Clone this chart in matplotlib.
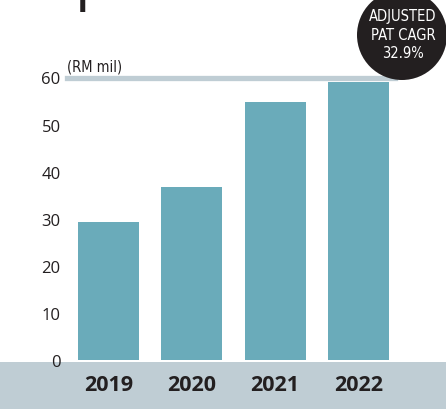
import matplotlib.pyplot as plt
from matplotlib.patches import Ellipse, Rectangle

# Adjusted PAT, RM mil
years = ["2019", "2020", "2021", "2022"]
pat = [29.3, 36.7, 54.7, 59.0]
y_ticks = [0, 10, 20, 30, 40, 50, 60]
unit_label = "(RM mil)"
badge_text = "ADJUSTED\nPAT CAGR\n32.9%"

W, H = 446, 410
bar_color = "#6AABBA"
band_color = "#BFCDD4"
ink = "#231F20"
narrow = dict(family="DejaVu Sans", fontstretch="condensed")

fig = plt.figure(figsize=(W / 100, H / 100), dpi=100)

# bottom band behind the year labels
fig.patches.append(Rectangle((0, 0), 1, 47 / H, transform=fig.transFigure,
                             facecolor=band_color, edgecolor="none", zorder=-1))

ax = fig.add_axes([67 / W, 49 / H, (W - 67) / W, 282.5 / H])
ax.set_facecolor("none")
xs = list(range(len(years)))
ax.bar(xs, pat, width=0.73, color=bar_color, zorder=2)
ax.set_ylim(0, 60)
ax.set_xlim(-0.498, 4.05)

ax.axhline(60, xmin=0, xmax=(395 - 67) / (W - 67), color=band_color,
           linewidth=3.8, zorder=1, clip_on=False)

for s in ax.spines.values():
    s.set_visible(False)
ax.set_yticks(y_ticks)
ax.set_yticklabels([str(t) for t in y_ticks], fontsize=12, color=ink,
                   family=["Open Sans", "DejaVu Sans"])
ax.tick_params(axis="y", length=0, pad=4.5)
ax.set_xticks([])

for x, label in zip(xs, years):
    ax.text(x, -5.1, label, ha="center", va="center", fontsize=15.5,
            fontweight="bold", color=ink, family=["Open Sans", "DejaVu Sans"],
            clip_on=False)

ax.text(-0.498, 60.9, unit_label, ha="left", va="bottom", fontsize=10.5,
        color=ink, **narrow)

# CAGR badge
fig.patches.append(Ellipse((402 / W, 1 - 36 / H), 90 / W, 90 / H,
                           transform=fig.transFigure, facecolor=ink,
                           edgecolor="none", zorder=5))
fig.text(403 / W, 1 - 35 / H, badge_text, ha="center", va="center",
         fontsize=10.5, color="white", linespacing=1.3, zorder=6, **narrow)

# tail of the heading above the chart
fig.text(75 / W, 1 + 2 / H, "p", ha="left", va="baseline", fontsize=44,
         color=ink, family=["Open Sans", "DejaVu Sans"])

fig.savefig("out.png", dpi=100)
